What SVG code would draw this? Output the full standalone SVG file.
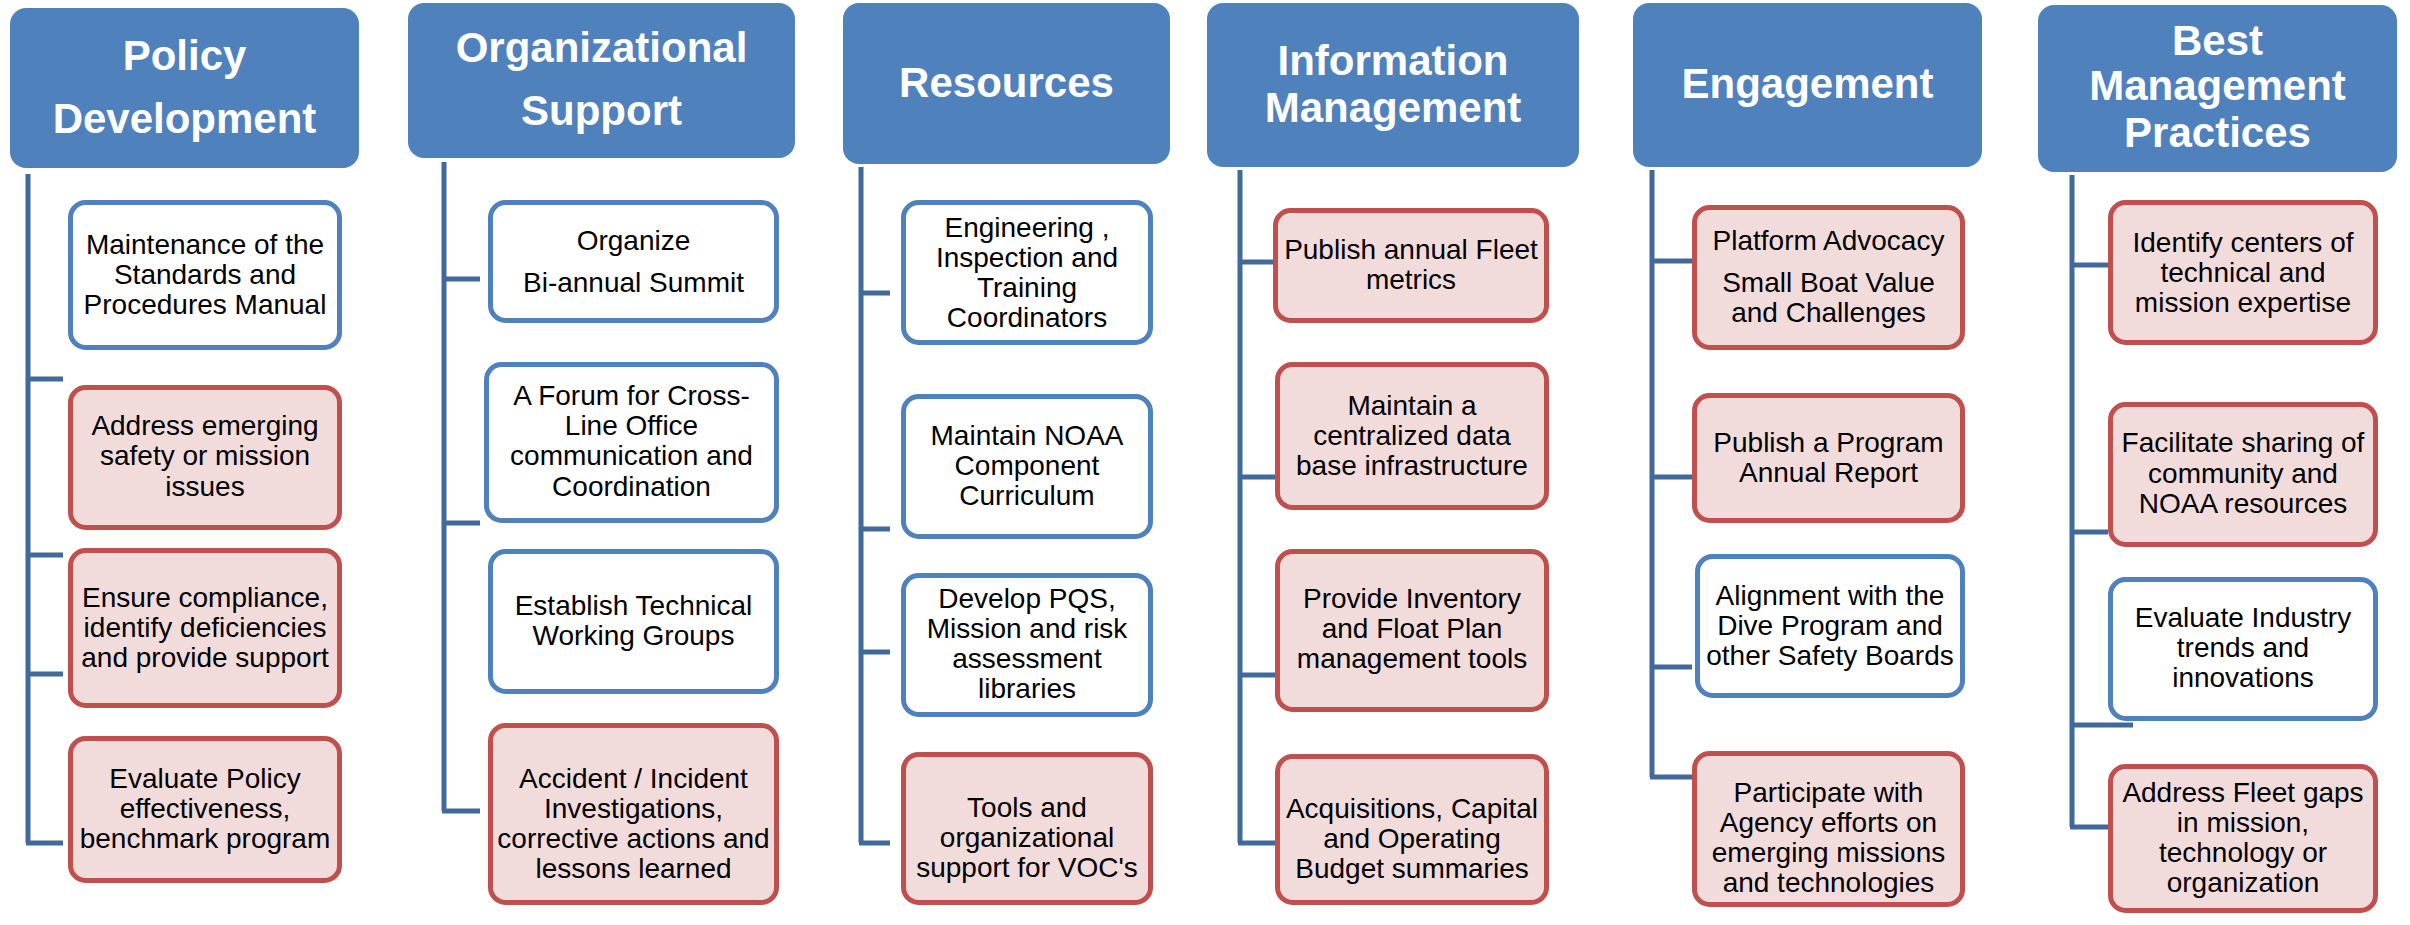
<svg xmlns="http://www.w3.org/2000/svg" width="2410" height="925" viewBox="0 0 2410 925">
<style>
.hdr{fill:#4F81BD}
.ht{font-family:"Liberation Sans",Arial,sans-serif;font-weight:bold;font-size:42px;fill:#FFFFFF;text-anchor:middle}
.nb{fill:#FFFFFF;stroke:#4F81BD;stroke-width:5}
.nr{fill:#F2DCDB;stroke:#C0504D;stroke-width:5}
.t{font-family:"Liberation Sans",Arial,sans-serif;font-size:28px;fill:#000000;text-anchor:middle}
.c{fill:none;stroke:#41699A;stroke-width:5}
</style>
<rect width="2410" height="925" fill="#FFFFFF"/>
<g id="connectors">
<path class="c" d="M28,174V843M28,379H63M28,555H63M28,674H63M26,843H63"/>
<path class="c" d="M444,162V811M444,279H480M444,523H480M442,811H480"/>
<path class="c" d="M861,167V843M861,293H890M861,529H890M861,652H890M859,843H890"/>
<path class="c" d="M1240,170V843M1240,262H1275M1240,477H1275M1240,675H1275M1238,843H1275"/>
<path class="c" d="M1652,170V777M1652,261H1692M1652,477H1692M1652,667H1692M1650,777H1692"/>
<path class="c" d="M2072,175V827M2072,265H2108M2072,532H2108M2072,725H2133M2070,827H2108"/>
</g>
<g id="h1"><rect class="hdr" x="10" y="8" width="349" height="160" rx="16"/><text class="ht" x="184.5" y="70">Policy</text><text class="ht" x="184.5" y="133">Development</text></g>
<g id="h2"><rect class="hdr" x="408" y="3" width="387" height="155" rx="16"/><text class="ht" x="601.5" y="62">Organizational</text><text class="ht" x="601.5" y="125">Support</text></g>
<g id="h3"><rect class="hdr" x="843" y="3" width="327" height="161" rx="16"/><text class="ht" x="1006.5" y="97">Resources</text></g>
<g id="h4"><rect class="hdr" x="1207" y="3" width="372" height="164" rx="16"/><text class="ht" x="1393" y="75">Information</text><text class="ht" x="1393" y="122">Management</text></g>
<g id="h5"><rect class="hdr" x="1633" y="3" width="349" height="164" rx="16"/><text class="ht" x="1807.5" y="98">Engagement</text></g>
<g id="h6"><rect class="hdr" x="2038" y="5" width="359" height="167" rx="16"/><text class="ht" x="2217.5" y="55">Best</text><text class="ht" x="2217.5" y="100">Management</text><text class="ht" x="2217.5" y="147">Practices</text></g>

<g id="n1a"><rect class="nb" x="70.5" y="202.5" width="269" height="145" rx="15"/><text class="t" x="205" y="254">Maintenance of the</text><text class="t" x="205" y="284">Standards and</text><text class="t" x="205" y="314">Procedures Manual</text></g>
<g id="n1b"><rect class="nr" x="70.5" y="387.5" width="269" height="140" rx="15"/><text class="t" x="205" y="435">Address emerging</text><text class="t" x="205" y="465">safety or mission</text><text class="t" x="205" y="496">issues</text></g>
<g id="n1c"><rect class="nr" x="70.5" y="550.5" width="269" height="155" rx="15"/><text class="t" x="205" y="607">Ensure compliance,</text><text class="t" x="205" y="637">identify deficiencies</text><text class="t" x="205" y="667">and provide support</text></g>
<g id="n1d"><rect class="nr" x="70.5" y="738.5" width="269" height="142" rx="15"/><text class="t" x="205" y="788">Evaluate Policy</text><text class="t" x="205" y="818">effectiveness,</text><text class="t" x="205" y="848">benchmark program</text></g>

<g id="n2a"><rect class="nb" x="490.5" y="202.5" width="286" height="118" rx="15"/><text class="t" x="633.5" y="250">Organize</text><text class="t" x="633.5" y="292">Bi-annual Summit</text></g>
<g id="n2b"><rect class="nb" x="486.5" y="364.5" width="290" height="156" rx="15"/><text class="t" x="631.5" y="405">A Forum for Cross-</text><text class="t" x="631.5" y="435">Line Office</text><text class="t" x="631.5" y="465">communication and</text><text class="t" x="631.5" y="496">Coordination</text></g>
<g id="n2c"><rect class="nb" x="490.5" y="551.5" width="286" height="140" rx="15"/><text class="t" x="633.5" y="615">Establish Technical</text><text class="t" x="633.5" y="645">Working Groups</text></g>
<g id="n2d"><rect class="nr" x="490.5" y="725.5" width="286" height="177" rx="15"/><text class="t" x="633.5" y="788">Accident / Incident</text><text class="t" x="633.5" y="818">Investigations,</text><text class="t" x="633.5" y="848">corrective actions and</text><text class="t" x="633.5" y="878">lessons learned</text></g>

<g id="n3a"><rect class="nb" x="903.5" y="202.5" width="247" height="140" rx="15"/><text class="t" x="1027" y="237">Engineering ,</text><text class="t" x="1027" y="267">Inspection and</text><text class="t" x="1027" y="297">Training</text><text class="t" x="1027" y="327">Coordinators</text></g>
<g id="n3b"><rect class="nb" x="903.5" y="396.5" width="247" height="140" rx="15"/><text class="t" x="1027" y="445">Maintain NOAA</text><text class="t" x="1027" y="475">Component</text><text class="t" x="1027" y="505">Curriculum</text></g>
<g id="n3c"><rect class="nb" x="903.5" y="575.5" width="247" height="139" rx="15"/><text class="t" x="1027" y="608">Develop PQS,</text><text class="t" x="1027" y="638">Mission and risk</text><text class="t" x="1027" y="668">assessment</text><text class="t" x="1027" y="698">libraries</text></g>
<g id="n3d"><rect class="nr" x="903.5" y="754.5" width="247" height="148" rx="15"/><text class="t" x="1027" y="817">Tools and</text><text class="t" x="1027" y="847">organizational</text><text class="t" x="1027" y="877">support for VOC's</text></g>

<g id="n4a"><rect class="nr" x="1275.5" y="210.5" width="271" height="110" rx="15"/><text class="t" x="1411" y="259">Publish annual Fleet</text><text class="t" x="1411" y="289">metrics</text></g>
<g id="n4b"><rect class="nr" x="1277.5" y="364.5" width="269" height="143" rx="15"/><text class="t" x="1412" y="415">Maintain a</text><text class="t" x="1412" y="445">centralized data</text><text class="t" x="1412" y="475">base infrastructure</text></g>
<g id="n4c"><rect class="nr" x="1277.5" y="551.5" width="269" height="158" rx="15"/><text class="t" x="1412" y="608">Provide Inventory</text><text class="t" x="1412" y="638">and Float Plan</text><text class="t" x="1412" y="668">management tools</text></g>
<g id="n4d"><rect class="nr" x="1277.5" y="756.5" width="269" height="146" rx="15"/><text class="t" x="1412" y="818">Acquisitions, Capital</text><text class="t" x="1412" y="848">and Operating</text><text class="t" x="1412" y="878">Budget summaries</text></g>

<g id="n5a"><rect class="nr" x="1694.5" y="207.5" width="268" height="140" rx="15"/><text class="t" x="1828.5" y="250">Platform Advocacy</text><text class="t" x="1828.5" y="292">Small Boat Value</text><text class="t" x="1828.5" y="322">and Challenges</text></g>
<g id="n5b"><rect class="nr" x="1694.5" y="395.5" width="268" height="125" rx="15"/><text class="t" x="1828.5" y="452">Publish a Program</text><text class="t" x="1828.5" y="482">Annual Report</text></g>
<g id="n5c"><rect class="nb" x="1697.5" y="556.5" width="265" height="139" rx="15"/><text class="t" x="1830" y="605">Alignment with the</text><text class="t" x="1830" y="635">Dive Program and</text><text class="t" x="1830" y="665">other Safety Boards</text></g>
<g id="n5d"><rect class="nr" x="1694.5" y="753.5" width="268" height="151" rx="15"/><text class="t" x="1828.5" y="802">Participate with</text><text class="t" x="1828.5" y="832">Agency efforts on</text><text class="t" x="1828.5" y="862">emerging missions</text><text class="t" x="1828.5" y="892">and technologies</text></g>

<g id="n6a"><rect class="nr" x="2110.5" y="202.5" width="265" height="140" rx="15"/><text class="t" x="2243" y="252">Identify centers of</text><text class="t" x="2243" y="282">technical and</text><text class="t" x="2243" y="312">mission expertise</text></g>
<g id="n6b"><rect class="nr" x="2110.5" y="404.5" width="265" height="140" rx="15"/><text class="t" x="2243" y="452">Facilitate sharing of</text><text class="t" x="2243" y="483">community and</text><text class="t" x="2243" y="513">NOAA resources</text></g>
<g id="n6c"><rect class="nb" x="2110.5" y="579.5" width="265" height="139" rx="15"/><text class="t" x="2243" y="627">Evaluate Industry</text><text class="t" x="2243" y="657">trends and</text><text class="t" x="2243" y="687">innovations</text></g>
<g id="n6d"><rect class="nr" x="2110.5" y="766.5" width="265" height="144" rx="15"/><text class="t" x="2243" y="802">Address Fleet gaps</text><text class="t" x="2243" y="832">in mission,</text><text class="t" x="2243" y="862">technology or</text><text class="t" x="2243" y="892">organization</text></g>
</svg>
